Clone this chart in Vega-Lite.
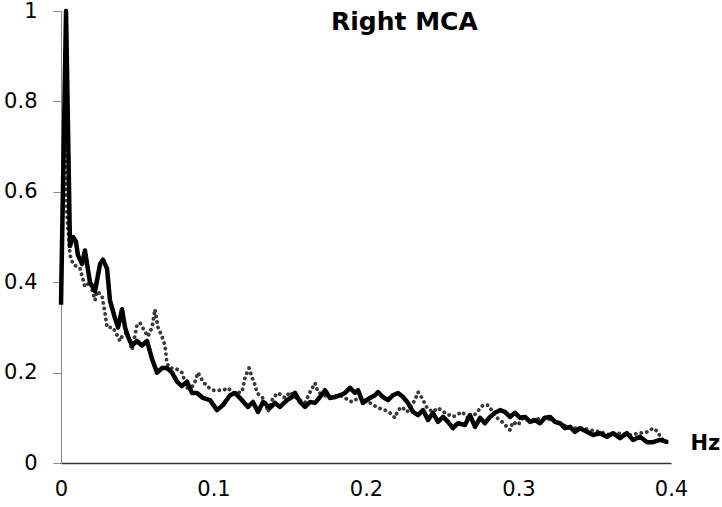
{
  "$schema": "https://vega.github.io/schema/vega-lite/v6.json",
  "width": 610,
  "height": 452,
  "autosize": {"type": "none"},
  "padding": {"left": 61, "top": 11, "right": 51, "bottom": 44},
  "background": "white",
  "config": {"view": {"stroke": null}, "font": "DejaVu Sans"},
  "datasets": {
    "dotted": [
      {"f": 0, "v": 0.36}, {"f": 0.002, "v": 0.78}, {"f": 0.0039, "v": 0.55}, {"f": 0.0059, "v": 0.46}, {"f": 0.0079, "v": 0.44},
      {"f": 0.0125, "v": 0.43}, {"f": 0.0157, "v": 0.39}, {"f": 0.019, "v": 0.40}, {"f": 0.0223, "v": 0.36}, {"f": 0.0236, "v": 0.38},
      {"f": 0.0269, "v": 0.37}, {"f": 0.0289, "v": 0.33}, {"f": 0.0302, "v": 0.30}, {"f": 0.0321, "v": 0.30}, {"f": 0.0341, "v": 0.30},
      {"f": 0.0387, "v": 0.27}, {"f": 0.04, "v": 0.28}, {"f": 0.0433, "v": 0.29}, {"f": 0.0466, "v": 0.25}, {"f": 0.0498, "v": 0.305},
      {"f": 0.0518, "v": 0.31}, {"f": 0.0551, "v": 0.29}, {"f": 0.057, "v": 0.28}, {"f": 0.0597, "v": 0.30}, {"f": 0.0616, "v": 0.34},
      {"f": 0.0636, "v": 0.30}, {"f": 0.0662, "v": 0.28}, {"f": 0.0682, "v": 0.26}, {"f": 0.0695, "v": 0.22}, {"f": 0.0715, "v": 0.21},
      {"f": 0.0748, "v": 0.21}, {"f": 0.0793, "v": 0.20}, {"f": 0.0826, "v": 0.166}, {"f": 0.0859, "v": 0.168}, {"f": 0.0879, "v": 0.18},
      {"f": 0.0898, "v": 0.20}, {"f": 0.0931, "v": 0.18}, {"f": 0.0964, "v": 0.168}, {"f": 0.0997, "v": 0.161}, {"f": 0.103, "v": 0.161},
      {"f": 0.1062, "v": 0.161}, {"f": 0.1095, "v": 0.166}, {"f": 0.1128, "v": 0.155}, {"f": 0.1187, "v": 0.157}, {"f": 0.1207, "v": 0.19},
      {"f": 0.1233, "v": 0.21}, {"f": 0.1252, "v": 0.19}, {"f": 0.1272, "v": 0.173}, {"f": 0.1285, "v": 0.155}, {"f": 0.1318, "v": 0.146},
      {"f": 0.1338, "v": 0.135}, {"f": 0.1357, "v": 0.113}, {"f": 0.139, "v": 0.144}, {"f": 0.1423, "v": 0.155}, {"f": 0.1469, "v": 0.144},
      {"f": 0.1502, "v": 0.157}, {"f": 0.1534, "v": 0.146}, {"f": 0.1567, "v": 0.139}, {"f": 0.16, "v": 0.133}, {"f": 0.1633, "v": 0.157},
      {"f": 0.1666, "v": 0.177}, {"f": 0.1685, "v": 0.157}, {"f": 0.1718, "v": 0.15}, {"f": 0.1764, "v": 0.146}, {"f": 0.183, "v": 0.15},
      {"f": 0.1908, "v": 0.135}, {"f": 0.1961, "v": 0.146}, {"f": 0.2026, "v": 0.133}, {"f": 0.2079, "v": 0.122}, {"f": 0.2125, "v": 0.117},
      {"f": 0.2157, "v": 0.111}, {"f": 0.219, "v": 0.1}, {"f": 0.221, "v": 0.117}, {"f": 0.2236, "v": 0.124}, {"f": 0.2269, "v": 0.113},
      {"f": 0.2321, "v": 0.139}, {"f": 0.2341, "v": 0.157}, {"f": 0.2367, "v": 0.144}, {"f": 0.24, "v": 0.122}, {"f": 0.2439, "v": 0.113},
      {"f": 0.2472, "v": 0.122}, {"f": 0.2518, "v": 0.111}, {"f": 0.257, "v": 0.102}, {"f": 0.263, "v": 0.113}, {"f": 0.2682, "v": 0.095},
      {"f": 0.2767, "v": 0.128}, {"f": 0.28, "v": 0.128}, {"f": 0.2859, "v": 0.1}, {"f": 0.2892, "v": 0.091}, {"f": 0.2944, "v": 0.073},
      {"f": 0.2964, "v": 0.091}, {"f": 0.2997, "v": 0.084}, {"f": 0.303, "v": 0.1}, {"f": 0.3095, "v": 0.095}, {"f": 0.3161, "v": 0.1},
      {"f": 0.3226, "v": 0.095}, {"f": 0.3292, "v": 0.084}, {"f": 0.3357, "v": 0.077}, {"f": 0.3423, "v": 0.077}, {"f": 0.3469, "v": 0.073},
      {"f": 0.3534, "v": 0.069}, {"f": 0.36, "v": 0.062}, {"f": 0.3666, "v": 0.066}, {"f": 0.3731, "v": 0.062}, {"f": 0.3797, "v": 0.066},
      {"f": 0.3849, "v": 0.069}, {"f": 0.3882, "v": 0.077}, {"f": 0.3915, "v": 0.069}, {"f": 0.3928, "v": 0.058}, {"f": 0.3961, "v": 0.046},
      {"f": 0.3993, "v": 0.046}
    ],
    "solid": [
      {"f": 0, "v": 0.35}, {"f": 0.0033, "v": 1.0}, {"f": 0.0059, "v": 0.48}, {"f": 0.0079, "v": 0.50}, {"f": 0.0098, "v": 0.49},
      {"f": 0.0111, "v": 0.46}, {"f": 0.0138, "v": 0.44}, {"f": 0.0157, "v": 0.47}, {"f": 0.019, "v": 0.40}, {"f": 0.0223, "v": 0.38},
      {"f": 0.0256, "v": 0.44}, {"f": 0.0275, "v": 0.45}, {"f": 0.0302, "v": 0.43}, {"f": 0.0321, "v": 0.36}, {"f": 0.0354, "v": 0.32},
      {"f": 0.0374, "v": 0.30}, {"f": 0.04, "v": 0.34}, {"f": 0.042, "v": 0.30}, {"f": 0.0439, "v": 0.28}, {"f": 0.0466, "v": 0.26},
      {"f": 0.0498, "v": 0.27}, {"f": 0.0531, "v": 0.26}, {"f": 0.0564, "v": 0.27}, {"f": 0.0597, "v": 0.23}, {"f": 0.063, "v": 0.20},
      {"f": 0.0662, "v": 0.21}, {"f": 0.0695, "v": 0.21}, {"f": 0.0728, "v": 0.20}, {"f": 0.0761, "v": 0.18}, {"f": 0.0793, "v": 0.17},
      {"f": 0.0826, "v": 0.18}, {"f": 0.0859, "v": 0.155}, {"f": 0.0892, "v": 0.155}, {"f": 0.0931, "v": 0.144}, {"f": 0.0977, "v": 0.139},
      {"f": 0.1023, "v": 0.117}, {"f": 0.1062, "v": 0.128}, {"f": 0.1108, "v": 0.15}, {"f": 0.1141, "v": 0.155}, {"f": 0.1187, "v": 0.139},
      {"f": 0.1226, "v": 0.124}, {"f": 0.1259, "v": 0.135}, {"f": 0.1292, "v": 0.113}, {"f": 0.1325, "v": 0.135}, {"f": 0.137, "v": 0.122},
      {"f": 0.1403, "v": 0.133}, {"f": 0.1436, "v": 0.124}, {"f": 0.1482, "v": 0.139}, {"f": 0.1515, "v": 0.146}, {"f": 0.1534, "v": 0.155},
      {"f": 0.1567, "v": 0.135}, {"f": 0.16, "v": 0.124}, {"f": 0.1633, "v": 0.135}, {"f": 0.1666, "v": 0.133}, {"f": 0.1698, "v": 0.146},
      {"f": 0.1731, "v": 0.161}, {"f": 0.1764, "v": 0.144}, {"f": 0.1797, "v": 0.146}, {"f": 0.183, "v": 0.15}, {"f": 0.1862, "v": 0.155},
      {"f": 0.1895, "v": 0.166}, {"f": 0.1928, "v": 0.155}, {"f": 0.1948, "v": 0.161}, {"f": 0.198, "v": 0.133}, {"f": 0.2026, "v": 0.144},
      {"f": 0.2059, "v": 0.15}, {"f": 0.2079, "v": 0.157}, {"f": 0.2111, "v": 0.146}, {"f": 0.2144, "v": 0.139}, {"f": 0.2177, "v": 0.15},
      {"f": 0.221, "v": 0.155}, {"f": 0.2243, "v": 0.146}, {"f": 0.2275, "v": 0.133}, {"f": 0.2308, "v": 0.113}, {"f": 0.2341, "v": 0.106},
      {"f": 0.2374, "v": 0.117}, {"f": 0.2407, "v": 0.095}, {"f": 0.2439, "v": 0.111}, {"f": 0.2472, "v": 0.091}, {"f": 0.2505, "v": 0.102},
      {"f": 0.2538, "v": 0.091}, {"f": 0.257, "v": 0.077}, {"f": 0.2603, "v": 0.088}, {"f": 0.2649, "v": 0.084}, {"f": 0.2682, "v": 0.106},
      {"f": 0.2715, "v": 0.08}, {"f": 0.2748, "v": 0.1}, {"f": 0.278, "v": 0.088}, {"f": 0.2813, "v": 0.102}, {"f": 0.2846, "v": 0.111},
      {"f": 0.2879, "v": 0.117}, {"f": 0.2911, "v": 0.113}, {"f": 0.2944, "v": 0.102}, {"f": 0.2977, "v": 0.111}, {"f": 0.301, "v": 0.1},
      {"f": 0.3043, "v": 0.102}, {"f": 0.3075, "v": 0.091}, {"f": 0.3108, "v": 0.095}, {"f": 0.3141, "v": 0.088}, {"f": 0.3174, "v": 0.1},
      {"f": 0.3207, "v": 0.102}, {"f": 0.3239, "v": 0.091}, {"f": 0.3272, "v": 0.088}, {"f": 0.3305, "v": 0.077}, {"f": 0.3338, "v": 0.08},
      {"f": 0.337, "v": 0.069}, {"f": 0.3403, "v": 0.077}, {"f": 0.3449, "v": 0.069}, {"f": 0.3489, "v": 0.062}, {"f": 0.3534, "v": 0.066},
      {"f": 0.358, "v": 0.058}, {"f": 0.362, "v": 0.066}, {"f": 0.3666, "v": 0.055}, {"f": 0.3711, "v": 0.066}, {"f": 0.3751, "v": 0.051},
      {"f": 0.3797, "v": 0.058}, {"f": 0.3843, "v": 0.046}, {"f": 0.3882, "v": 0.046}, {"f": 0.3928, "v": 0.051}, {"f": 0.398, "v": 0.046}
    ],
    "titles": [
      {"label": "Right MCA", "f": 0.2252, "v": 0.958}
    ]
  },
  "layer": [
    {"data": {"name": "dotted"}, "mark": {"type": "line", "color": "#3a3a3a", "strokeWidth": 3.8, "strokeDash": [0.1, 5.5], "strokeCap": "round", "strokeJoin": "round"},
      "encoding": {
        "x": {"field": "f", "type": "quantitative",
          "scale": {"domain": [0, 0.4], "nice": false, "zero": false},
          "axis": {"values": [0, 0.1, 0.2, 0.3, 0.4], "labelExpr": "'' + datum.value", "title": "Hz",
            "titleX": 629, "titleY": -20, "titleAlign": "left", "titleBaseline": "middle", "titleAnchor": null,
            "titleFontSize": 21, "titleFontWeight": "bold", "titleFont": "DejaVu Sans", "titleColor": "black",
            "ticks": false, "domainColor": "#333", "domainWidth": 1.5, "grid": false,
            "labelFont": "DejaVu Sans", "labelFontSize": 21, "labelColor": "black", "labelPadding": 15, "labelFlush": false}},
        "y": {"field": "v", "type": "quantitative",
          "scale": {"domain": [0, 1], "nice": false},
          "axis": {"values": [0, 0.2, 0.4, 0.6, 0.8, 1], "labelExpr": "'' + datum.value", "title": null,
            "domainColor": "#888", "tickColor": "#888", "tickSize": 8, "grid": false,
            "labelFont": "DejaVu Sans", "labelFontSize": 21, "labelColor": "black", "labelPadding": 16, "labelFlush": false}}
      }},
    {"data": {"name": "solid"}, "mark": {"type": "line", "color": "black", "strokeWidth": 4.5, "strokeJoin": "round"},
      "encoding": {"x": {"field": "f", "type": "quantitative"}, "y": {"field": "v", "type": "quantitative"}}},
    {"data": {"name": "titles"}, "mark": {"type": "text", "font": "DejaVu Sans", "fontSize": 25, "fontWeight": "bold", "color": "black", "align": "center", "baseline": "alphabetic"},
      "encoding": {"x": {"field": "f", "type": "quantitative"}, "y": {"field": "v", "type": "quantitative"}, "text": {"field": "label"}}}
  ]
}
